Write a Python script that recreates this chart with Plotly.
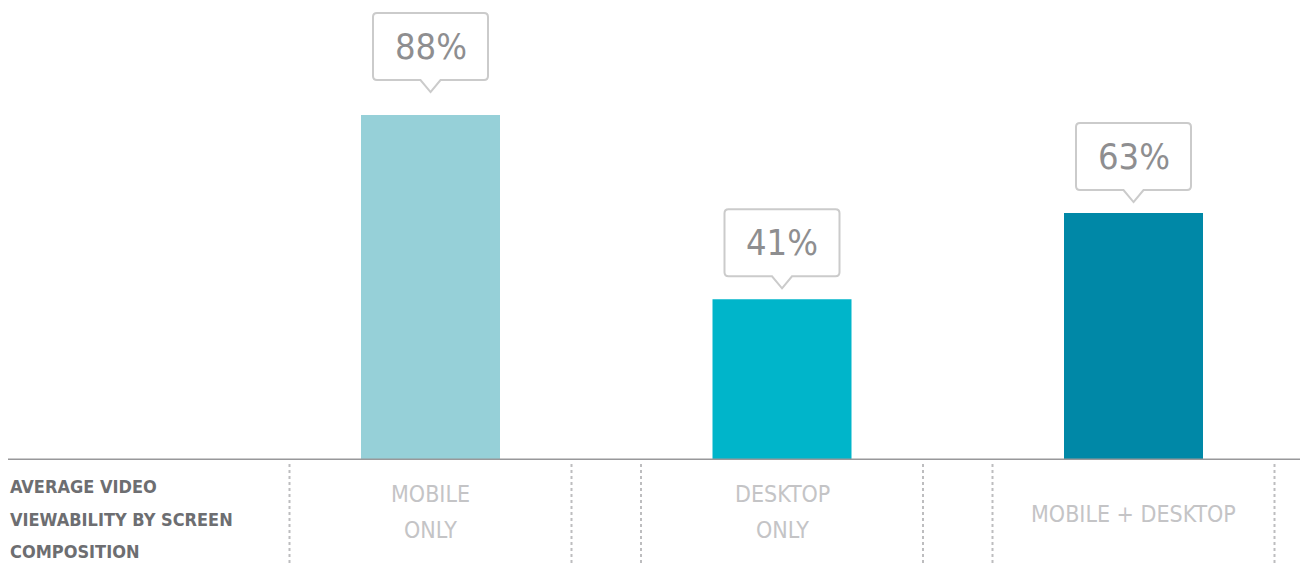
import plotly.graph_objects as go

# ---- data ----
categories = ["MOBILE ONLY", "DESKTOP ONLY", "MOBILE + DESKTOP"]
values = [88, 41, 63]
value_labels = ["88%", "41%", "63%"]
category_label_lines = [["MOBILE", "ONLY"], ["DESKTOP", "ONLY"], ["MOBILE + DESKTOP"]]
bar_colors = ["#96d0d8", "#00b5ca", "#0088a7"]
side_title_lines = ["AVERAGE VIDEO", "VIEWABILITY BY SCREEN", "COMPOSITION"]

# ---- style ----
W, H = 1300, 563
FONT = "Liberation Sans Narrow, DejaVu Sans Condensed, Arial Narrow, sans-serif"
callout_gap = [23, 11, 11]   # pixels between bar top and callout tip

base_px = 460          # baseline pixel row
px_per_unit = 3.92
center0, spacing = 430.5, 351.5

fig = go.Figure()
fig.add_trace(go.Bar(
    x=categories, y=values,
    marker=dict(color=bar_colors, line=dict(width=0)),
    width=139 / spacing,
    hoverinfo="skip",
))

xr = [(0 - center0) / spacing, (W - center0) / spacing]
yr = [0, base_px / px_per_unit]

def py(p):
    return 1 - p / H

shapes = []
# baseline
shapes.append(dict(type="line", xref="paper", yref="y", x0=8 / W, x1=1, y0=0, y1=0,
                   line=dict(color="#98989a", width=3), layer="above"))
# dotted separators
half = 141 / spacing
for i, _ in enumerate(categories):
    for dx in (-half, half):
        shapes.append(dict(type="line", xref="x", yref="paper", x0=i + dx, x1=i + dx,
                           y0=0, y1=py(463),
                           line=dict(color="#bdbdbf", width=2, dash="dot")))
# callouts
annotations = []
for cat, v, lab, g in zip(categories, values, value_labels, callout_gap):
    b, t = g + 12, g + 79
    path = (f"M 0,{g} L 10,{b} L 53.5,{b} Q 57.5,{b} 57.5,{b+4} L 57.5,{t-4} Q 57.5,{t} 53.5,{t} "
            f"L -53.5,{t} Q -57.5,{t} -57.5,{t-4} L -57.5,{b+4} Q -57.5,{b} -53.5,{b} L -10,{b} Z")
    shapes.append(dict(type="path", xref="x", yref="y", xsizemode="pixel", ysizemode="pixel",
                       xanchor=cat, yanchor=v, path=path,
                       line=dict(color="#cbcbcb", width=2), fillcolor="white"))
    annotations.append(dict(x=cat, y=v, xref="x", yref="y", text=lab, showarrow=False,
                            yanchor="middle", yshift=(b + t) / 2,
                            font=dict(family=FONT, size=36, color="#8e8e90")))

# category labels
for cat, lines in zip(categories, category_label_lines):
    ys = [494, 530] if len(lines) == 2 else [514]
    for t, yy in zip(lines, ys):
        annotations.append(dict(x=cat, y=py(yy), xref="x", yref="paper", text=t,
                                showarrow=False, xanchor="center", yanchor="middle",
                                font=dict(family=FONT, size=23, color="#c4c4c6")))

# side title
for t, yy in zip(side_title_lines, [486, 519, 551]):
    annotations.append(dict(x=8 / W, y=py(yy), xref="paper", yref="paper", text="<b>" + t + "</b>",
                            showarrow=False, xanchor="left", yanchor="middle",
                            font=dict(family=FONT, size=18, color="#6d6e71")))

fig.update_layout(
    width=W, height=H,
    margin=dict(l=0, r=0, t=0, b=0),
    paper_bgcolor="white", plot_bgcolor="white",
    showlegend=False,
    xaxis=dict(range=xr, showticklabels=False, showgrid=False, zeroline=False,
               showline=False, ticks="", fixedrange=True),
    yaxis=dict(range=yr, domain=[1 - base_px / H, 1], showticklabels=False, showgrid=False,
               zeroline=False, showline=False, ticks="", fixedrange=True),
    shapes=shapes,
    annotations=annotations,
)

fig.write_html("out.html")
